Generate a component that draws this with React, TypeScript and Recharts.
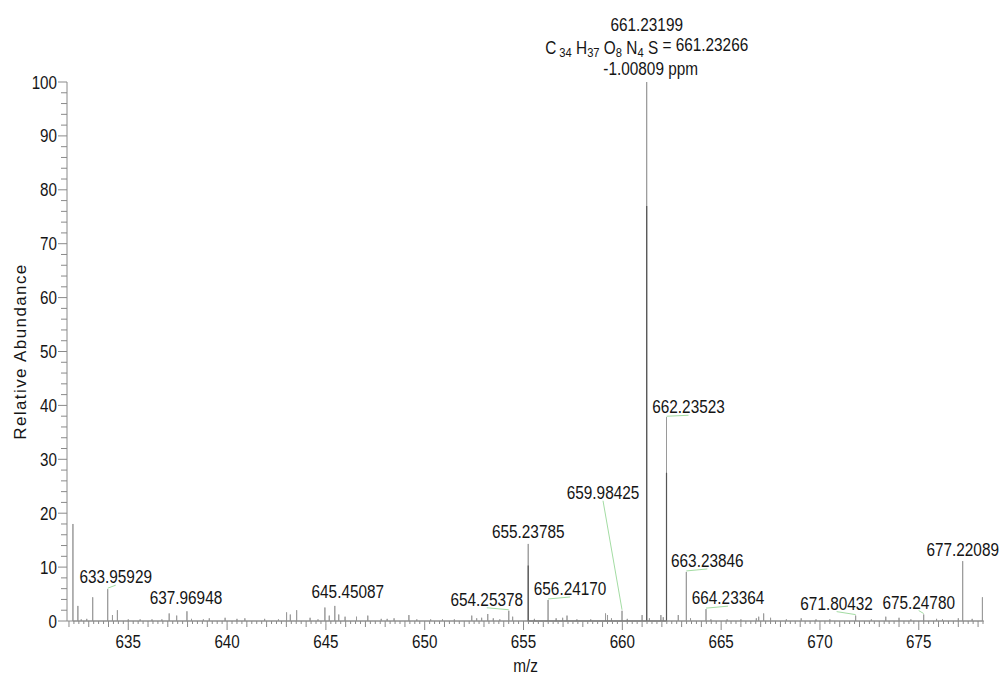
import { ComposedChart, Line, Scatter, XAxis, YAxis } from 'recharts';

const FONT = '"Liberation Sans", Arial, Helvetica, sans-serif';
const INK = '#151515';
const AXIS_GREY = '#8a8a8a';

// centroid sticks: m/z and relative abundance (%)
const PEAK_MZ = [
  632.2, 632.45, 632.62, 632.9, 633.2, 633.95929, 634.2, 634.45, 635.0, 635.6, 636.2, 636.7,
  637.07, 637.45, 637.96948, 638.2, 638.8, 639.1, 639.9, 640.5, 640.9, 641.9, 642.6,
  643.01, 643.2, 643.52, 644.2, 644.6, 644.95, 645.17, 645.45087, 645.65, 645.97, 646.55,
  647.12, 647.8, 648.1, 648.45, 649.2, 649.6, 650.3, 650.9, 651.5, 652.38, 652.63, 652.88,
  653.19, 653.47, 653.8, 654.25378, 654.45, 655.23785, 655.55, 656.2417, 656.65, 656.98,
  657.2, 657.7, 658.4, 659.15, 659.25, 659.45, 659.98425, 660.25, 661.0, 661.23199, 661.37,
  661.95, 662.07, 662.23523, 662.83, 663.23846, 663.45, 664.23364, 664.48, 665.3, 666.0,
  666.78, 666.9, 667.15, 667.5, 668.3, 669.05, 669.8, 670.5, 671.80432, 672.6, 673.33,
  674.0, 674.6, 675.2478, 675.9, 676.2, 677.0, 677.22089, 677.7, 678.22,
];
const PEAK_INT = [
  18.0, 2.8, 0.3, 0.4, 4.4, 5.9, 1.1, 2.0, 0.3, 0.3, 0.3, 0.3,
  1.4, 1.0, 1.8, 0.4, 0.3, 0.5, 0.6, 0.4, 0.5, 0.4, 0.3,
  1.6, 1.2, 2.0, 0.6, 0.3, 2.5, 1.0, 2.8, 1.2, 0.8, 0.8,
  1.0, 0.4, 0.4, 0.5, 1.1, 0.3, 0.3, 0.3, 0.3, 1.0, 0.5, 0.6,
  1.3, 0.5, 0.3, 1.9, 0.8, 14.3, 0.4, 3.9, 0.5, 0.6,
  1.0, 0.3, 0.3, 1.4, 1.1, 0.5, 1.9, 0.4, 1.1, 100, 0.5,
  1.1, 0.7, 37.8, 1.1, 9.1, 0.5, 2.2, 0.3, 0.3, 0.3,
  0.5, 0.8, 1.4, 0.6, 0.3, 0.5, 0.3, 0.3, 1.0, 0.3, 0.8,
  0.6, 0.3, 1.2, 0.4, 0.3, 0.5, 11.1, 0.4, 4.4,
];

// darker inner trace on the big sticks
const CORE_MZ = [655.23785, 661.23199, 662.23523];
const CORE_INT = [10.3, 77, 27.5];

// annotated peaks
const LABEL_MZ = [
  633.95929, 637.96948, 645.45087, 654.25378, 655.23785, 656.2417, 659.98425,
  662.23523, 663.23846, 664.23364, 671.80432, 675.2478, 677.22089,
];
const LABEL_TEXT = [
  '633.95929', '637.96948', '645.45087', '654.25378', '655.23785', '656.24170', '659.98425',
  '662.23523', '663.23846', '664.23364', '671.80432', '675.24780', '677.22089',
];

const BASE_MZ = 661.23199;
const BASE_TEXT = '661.23199';
const FORMULA: [string, string][] = [['C', '34'], ['H', '37'], ['O', '8'], ['N', '4'], ['S', '']];
const FORMULA_MASS = '661.23266';
const PPM_TEXT = '-1.00809 ppm';

const X_LABELS = [635, 640, 645, 650, 655, 660, 665, 670, 675];
const Y_LABELS = [0, 10, 20, 30, 40, 50, 60, 70, 80, 90, 100];

// axis minor ticks: every 0.25 on m/z, every 2 on abundance
const X_TICKS: number[] = [];
for (let v = 632; v <= 678.25; v += 0.25) X_TICKS.push(v);
const Y_TICKS: number[] = [];
for (let v = 0; v <= 100; v += 2) Y_TICKS.push(v);

// label placement relative to the peak top: dx, dy (px), leader line
const LABEL_LAYOUT: Record<string, [number, number, boolean]> = {
  '633.95929': [8, -6, true],
  '637.96948': [-1, -7, false],
  '645.45087': [13, -8, false],
  '654.25378': [-22, -5, true],
  '655.23785': [0, -6, false],
  '656.24170': [22, -5, true],
  '659.98425': [-19, -112, true],
  '662.23523': [22, -4, true],
  '663.23846': [21, -5, true],
  '664.23364': [22, -5, true],
  '671.80432': [-19, -6, true],
  '675.24780': [-5, -6, true],
  '677.22089': [0, -5, false],
};

const sticks = (mz: number[], h: number[]) =>
  mz.flatMap((m, i) => [{ mz: m, y: 0 }, { mz: m, y: h[i] }, { mz: m, y: 0 }]);

const heightAt = (m: number) => {
  let best = 0;
  PEAK_MZ.forEach((p, i) => {
    if (Math.abs(p - m) < Math.abs(PEAK_MZ[best] - m)) best = i;
  });
  return PEAK_INT[best];
};

const outerData = sticks(PEAK_MZ, PEAK_INT);
const coreData = sticks(CORE_MZ, CORE_INT);
const labelData = LABEL_MZ.map((m, i) => ({ mz: m, y: heightAt(m), text: LABEL_TEXT[i] }));
const baseData = [{ mz: BASE_MZ, y: heightAt(BASE_MZ) }];

function Txt({ x, y, size = 18.5, sx = 0.83, anchor = 'middle', children }: any) {
  return (
    <text transform={`translate(${x},${y}) scale(${sx},1)`} textAnchor={anchor} fontSize={size} fontFamily={FONT} fill={INK}>
      {children}
    </text>
  );
}

function PeakLabel(props: any) {
  const { cx, cy, payload } = props;
  const [dx, dy, lead] = LABEL_LAYOUT[payload.text] ?? [0, -6, false];
  const tx = cx + dx, ty = cy + dy;
  return (
    <g>
      {lead && <line x1={tx} y1={ty + 2} x2={cx} y2={cy - 1} stroke="#a3dca3" strokeWidth={1} />}
      <Txt x={tx} y={ty}>{payload.text}</Txt>
    </g>
  );
}

function BaseLabel(props: any) {
  const { cx, cy } = props;
  return (
    <g>
      <Txt x={cx} y={cy - 51}>{BASE_TEXT}</Txt>
      <Txt x={cx} y={cy - 28}>
        {FORMULA.map(([el, n], i) => (
          <tspan key={el}>
            <tspan dy={i === 0 ? 0 : -3}>{(i === 0 ? '' : ' ') + el}</tspan>
            {n && <tspan fontSize={13.5} dy={3}>{(i === 0 ? ' ' : '') + n}</tspan>}
            {!n && <tspan dy={3}>{''}</tspan>}
          </tspan>
        ))}
        <tspan dy={-3}>{` = ${FORMULA_MASS}`}</tspan>
      </Txt>
      <Txt x={cx + 4} y={cy - 7}>{PPM_TEXT}</Txt>
    </g>
  );
}

function XTick({ x, y, payload }: any) {
  const v = payload.value;
  const major = Math.abs(v % 5) < 1e-6;
  const unit = Math.abs(v - Math.round(v)) < 1e-6;
  const len = major ? 9 : unit ? 6 : 3;
  return (
    <g>
      <line x1={x} y1={y} x2={x} y2={y + len} stroke={AXIS_GREY} strokeWidth={1} />
      {major && X_LABELS.includes(Math.round(v)) && (
        <Txt x={x} y={y + 27} size={19} sx={0.8}>{String(Math.round(v))}</Txt>
      )}
    </g>
  );
}

function YTick({ x, y, payload }: any) {
  const v = payload.value;
  const major = Y_LABELS.includes(v);
  return (
    <g>
      <line x1={x - (major ? 9 : 6)} y1={y} x2={x} y2={y} stroke={AXIS_GREY} strokeWidth={1} />
      {major && (
        <Txt x={x - 10} y={y + 6.5} size={19} sx={0.8} anchor="end">{String(v)}</Txt>
      )}
    </g>
  );
}

export default function App() {
  return (
    <div style={{ position: 'absolute', left: 0, top: 0, width: 1003, height: 679, background: '#fff' }}>
      <ComposedChart width={1003} height={679} margin={{ top: 82, right: 19, bottom: 0, left: 0 }}>
        <XAxis
          dataKey="mz"
          type="number"
          domain={[631.9, 678.3]}
          ticks={X_TICKS}
          interval={0}
          tick={<XTick />}
          tickLine={false}
          tickSize={0}
          tickMargin={0}
          axisLine={{ stroke: AXIS_GREY }}
          height={58}
          label={{
            content: ({ viewBox }: any) => (
              <Txt x={viewBox.x + viewBox.width / 2} y={viewBox.y + 51}>m/z</Txt>
            ),
          }}
        />
        <YAxis
          type="number"
          domain={[0, 100]}
          ticks={Y_TICKS}
          interval={0}
          tick={<YTick />}
          tickLine={false}
          tickSize={0}
          tickMargin={0}
          axisLine={{ stroke: AXIS_GREY }}
          width={67}
          label={{
            content: ({ viewBox }: any) => (
              <text
                transform={`translate(${viewBox.x + 26},${viewBox.y + viewBox.height / 2}) rotate(-90)`}
                textAnchor="middle"
                fontSize={17}
                letterSpacing={1.4}
                fontFamily={FONT}
                fill={INK}
              >
                Relative Abundance
              </text>
            ),
          }}
        />
        <Line data={outerData} dataKey="y" type="linear" stroke="#9a9a9a" strokeWidth={1} dot={false} activeDot={false} isAnimationActive={false} />
        <Line data={coreData} dataKey="y" type="linear" stroke="#555555" strokeWidth={1.2} dot={false} activeDot={false} isAnimationActive={false} />
        <Scatter data={labelData} dataKey="y" shape={<PeakLabel />} isAnimationActive={false} />
        <Scatter data={baseData} dataKey="y" shape={<BaseLabel />} isAnimationActive={false} />
      </ComposedChart>
    </div>
  );
}
